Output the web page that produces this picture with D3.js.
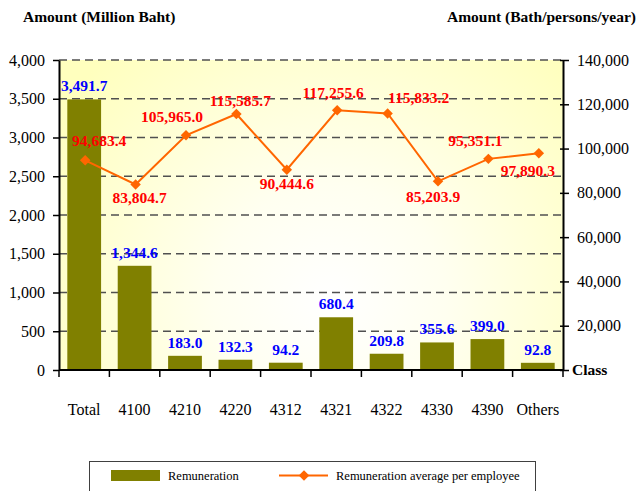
<!DOCTYPE html>
<html>
<head>
<meta charset="utf-8">
<script src="https://cdn.jsdelivr.net/npm/d3@7"></script>
<style>
  html, body { margin: 0; padding: 0; background: #ffffff; }
  svg { display: block; }
  text { font-family: "Liberation Serif", "Times New Roman", serif; }
</style>
</head>
<body>
<svg id="chart" width="639" height="491"></svg>
<script>
// ---- data ----
const categories = ["Total", "4100", "4210", "4220", "4312", "4321", "4322", "4330", "4390", "Others"];
const remuneration = [3491.7, 1344.6, 183.0, 132.3, 94.2, 680.4, 209.8, 355.6, 399.0, 92.8];
const avgPerEmployee = [94683.4, 83804.7, 105965.0, 115585.7, 90444.6, 117255.6, 115833.2, 85203.9, 95351.1, 97890.3];
const leftTicks = [0, 500, 1000, 1500, 2000, 2500, 3000, 3500, 4000];
const rightTicks = [0, 20000, 40000, 60000, 80000, 100000, 120000, 140000];
const leftTitle = "Amount (Million Baht)";
const rightTitle = "Amount (Bath/persons/year)";
const axisClassLabel = "Class";
const seriesNames = ["Remuneration", "Remuneration average per employee"];

// ---- layout ----
const L = 59, R = 563, T = 60, B = 370;
const svg = d3.select("#chart");
const fmt1 = d3.format(",.1f");
const fmtInt = d3.format(",");

const x = d3.scaleBand().domain(categories).range([L, R]).paddingInner(0.33).paddingOuter(0.165);
const xc = d3.scaleBand().domain(categories).range([L, R]);
const yL = d3.scaleLinear().domain([0, 4000]).range([B, T]);
const yR = d3.scaleLinear().domain([0, 140000]).range([B, T]);

// background gradient
const defs = svg.append("defs");
const rg = defs.append("radialGradient").attr("id", "bg")
  .attr("gradientUnits", "userSpaceOnUse")
  .attr("cx", 330).attr("cy", 300).attr("r", 330);
rg.append("stop").attr("offset", "0%").attr("stop-color", "#ffffff");
rg.append("stop").attr("offset", "35%").attr("stop-color", "#fffff0");
rg.append("stop").attr("offset", "100%").attr("stop-color", "#ffffbe");

svg.append("rect").attr("x", L).attr("y", T).attr("width", R - L).attr("height", B - T)
  .attr("fill", "url(#bg)");

// gridlines (dashed)
svg.append("g").selectAll("line").data(leftTicks.filter(d => d > 0)).join("line")
  .attr("x1", L).attr("x2", R)
  .attr("y1", d => yL(d)).attr("y2", d => yL(d))
  .attr("stroke", "#505050").attr("stroke-width", 1.5)
  .attr("stroke-dasharray", "8,5");

// bars
svg.append("g").selectAll("rect").data(categories).join("rect")
  .attr("x", d => x(d))
  .attr("width", x.bandwidth())
  .attr("y", (d, i) => yL(remuneration[i]))
  .attr("height", (d, i) => B - yL(remuneration[i]))
  .attr("fill", "#808000");

// bar labels
svg.append("g").selectAll("text").data(categories).join("text")
  .attr("x", d => x(d) + x.bandwidth() / 2)
  .attr("y", (d, i) => yL(remuneration[i]) - 8)
  .attr("text-anchor", "middle")
  .attr("font-size", "15.5px").attr("font-weight", "bold")
  .attr("fill", "#0000ff")
  .text((d, i) => fmt1(remuneration[i]));

// line
const px = d => xc(d) + xc.bandwidth() / 2 + 1;
const line = d3.line().x((d, i) => px(categories[i])).y(d => yR(d));
svg.append("path").datum(avgPerEmployee)
  .attr("d", line).attr("fill", "none")
  .attr("stroke", "#ff6600").attr("stroke-width", 2);
const diamond = d3.symbol().type(d3.symbolDiamond2).size(70);
svg.append("g").selectAll("path").data(avgPerEmployee).join("path")
  .attr("transform", (d, i) => `translate(${px(categories[i])},${yR(d)})`)
  .attr("d", diamond)
  .attr("fill", "#ff6600");

// line labels (label placement offsets relative to each point)
const lineLabelOffsets = [[14, -14], [4, 19], [-14, -13], [4, -8], [0, 19], [-4, -12], [31, -11], [-5, 21], [-13, -13], [-11, 23]];
svg.append("g").selectAll("text").data(avgPerEmployee).join("text")
  .attr("x", (d, i) => px(categories[i]) + lineLabelOffsets[i][0])
  .attr("y", (d, i) => yR(d) + lineLabelOffsets[i][1])
  .attr("text-anchor", "middle")
  .attr("font-size", "15.5px").attr("font-weight", "bold")
  .attr("fill", "#ff0000")
  .text(d => fmt1(d));

// left axis
const gL = svg.append("g").attr("transform", `translate(${L},0)`)
  .call(d3.axisLeft(yL).tickValues(leftTicks).tickFormat(fmtInt).tickSizeOuter(0).tickSizeInner(6).tickPadding(8));
gL.select(".domain").attr("stroke", "#000").attr("stroke-width", 2);
gL.selectAll(".tick line").attr("stroke", "#000").attr("stroke-width", 1.5);
gL.selectAll(".tick text").attr("font-family", "Liberation Serif").attr("font-size", "16px").attr("fill", "#000");

// right axis
const gR = svg.append("g").attr("transform", `translate(${R},0)`)
  .call(d3.axisRight(yR).tickValues(rightTicks).tickFormat(d => d === 0 ? "" : fmtInt(d)).tickSizeOuter(0).tickSizeInner(6).tickPadding(8));
gR.select(".domain").attr("stroke", "#000").attr("stroke-width", 2);
gR.selectAll(".tick line").attr("stroke", "#000").attr("stroke-width", 1.5).attr("x1", -3);
gR.selectAll(".tick text").attr("font-family", "Liberation Serif").attr("font-size", "16px").attr("fill", "#000");

// bottom axis (ticks at category boundaries)
svg.append("line").attr("x1", L).attr("x2", R).attr("y1", B).attr("y2", B)
  .attr("stroke", "#000").attr("stroke-width", 2);
const boundaries = categories.map(d => xc(d)).concat([R]);
svg.append("g").selectAll("line").data(boundaries).join("line")
  .attr("x1", d => d).attr("x2", d => d).attr("y1", B).attr("y2", B + 7)
  .attr("stroke", "#000").attr("stroke-width", 1.5);
svg.append("g").selectAll("text").data(categories).join("text")
  .attr("x", d => xc(d) + xc.bandwidth() / 2)
  .attr("y", 415)
  .attr("text-anchor", "middle")
  .attr("font-size", "16px").attr("fill", "#000")
  .text(d => d);

// "Class" label
svg.append("text").attr("x", 572).attr("y", B + 5)
  .attr("font-size", "15.5px").attr("font-weight", "bold").attr("fill", "#000")
  .text(axisClassLabel);

// titles
svg.append("text").attr("x", 23).attr("y", 22)
  .attr("font-size", "15.5px").attr("font-weight", "bold").attr("fill", "#000")
  .text(leftTitle);
svg.append("text").attr("x", 636).attr("y", 22).attr("text-anchor", "end")
  .attr("font-size", "15.5px").attr("font-weight", "bold").attr("fill", "#000")
  .text(rightTitle);

// legend
const lg = svg.append("g");
lg.append("rect").attr("x", 89.5).attr("y", 461.5).attr("width", 446).attr("height", 40)
  .attr("fill", "#ffffff").attr("stroke", "#404040").attr("stroke-width", 1);
lg.append("rect").attr("x", 111).attr("y", 470).attr("width", 49).attr("height", 11).attr("fill", "#808000");
lg.append("text").attr("x", 168).attr("y", 479.5).attr("font-size", "12.5px").attr("fill", "#000").text(seriesNames[0]);
lg.append("line").attr("x1", 279).attr("x2", 328).attr("y1", 475.5).attr("y2", 475.5)
  .attr("stroke", "#ff6600").attr("stroke-width", 2);
lg.append("path").attr("transform", "translate(304,475.5)").attr("d", diamond).attr("fill", "#ff6600");
lg.append("text").attr("x", 336).attr("y", 479.5).attr("font-size", "12.5px").attr("fill", "#000").text(seriesNames[1]);
</script>
</body>
</html>
